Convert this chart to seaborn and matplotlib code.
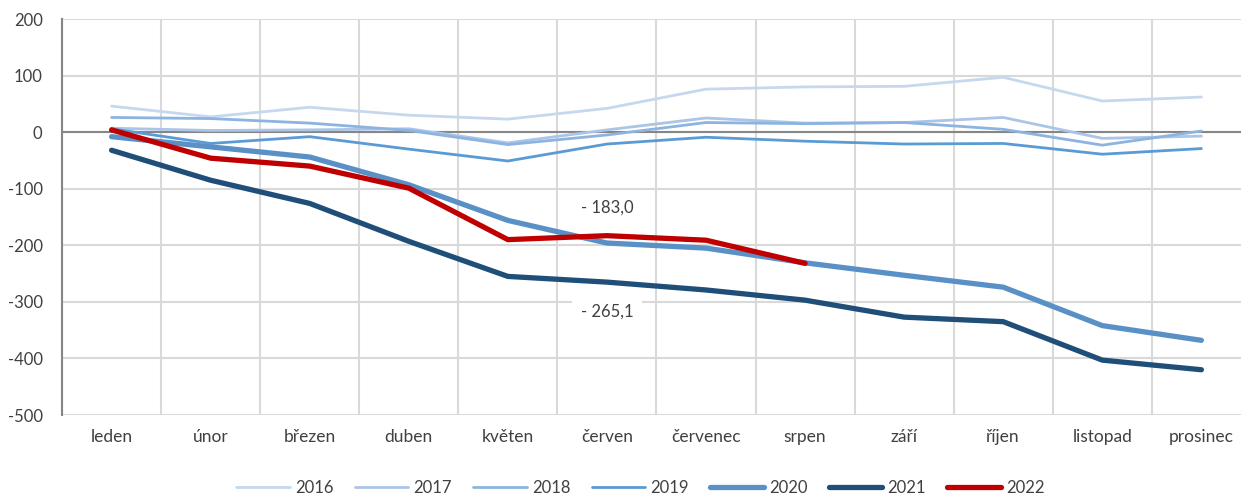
import matplotlib
matplotlib.use("Agg")
import matplotlib.pyplot as plt
import seaborn as sns
import pandas as pd
from matplotlib.lines import Line2D

months = ["leden", "únor", "březen", "duben", "květen", "červen",
          "červenec", "srpen", "září", "říjen", "listopad", "prosinec"]

y2016 = [46, 27, 44, 30, 23, 42, 76, 80, 81, 97, 55, 62]
y2017 = [7, 3, 4, 6, -19, 4, 25, 16, 17, 26, -11, -7]
y2018 = [26, 24, 16, 3, -22, -5, 17, 15, 17, 5, -23, 2]
y2019 = [6, -20, -8, -30, -51, -21, -9, -16, -21, -20, -39, -29]
y2020 = [-8, -26, -44, -93, -156, -196, -205, -231, -253, -274, -342, -368]
y2021 = [-32, -85, -126, -193, -255, -265.1, -279, -297, -327, -335, -403, -420]
y2022 = [4, -46, -60, -99, -190, -183.0, -191, -232]

years = ["2016", "2017", "2018", "2019", "2020", "2021", "2022"]
series = [y2016, y2017, y2018, y2019, y2020, y2021, y2022]
colors = ["#c6d8ee", "#aac5e7", "#8db4e0", "#5b9bd5", "#5990c6", "#1f4e79", "#c00000"]
widths = [2.0, 2.0, 2.0, 2.0, 3.8, 3.8, 3.8]

rows = []
for yr, vals in zip(years, series):
    for i, v in enumerate(vals):
        rows.append({"year": yr, "month_idx": i, "value": v})
df = pd.DataFrame(rows)

sns.set_theme(style="white")
plt.rcParams['font.family'] = ['Lato', 'DejaVu Sans']

fig = plt.figure(figsize=(12.41, 4.95), dpi=100)
ax = fig.add_axes([0.05, 0.1616, 0.958, 0.80])

for yr, c, w in zip(years, colors, widths):
    sub = df[df["year"] == yr]
    sns.lineplot(data=sub, x="month_idx", y="value", color=c, linewidth=w,
                 ax=ax, legend=False, solid_capstyle="round", zorder=3)

ax.set_xlim(-0.5, 11.5)
ax.set_ylim(-500, 200)
ax.set_yticks(range(-500, 201, 100))
ax.set_yticklabels([str(v) for v in range(-500, 201, 100)], fontsize=12, color="#404040")
ax.set_xticks(range(12))
ax.set_xticklabels(months, fontsize=12.5, color="#404040")
ax.set_xticks([i + 0.5 for i in range(-1, 12)], minor=True)
ax.tick_params(axis="both", which="both", length=0)
ax.tick_params(axis="x", pad=10)
ax.tick_params(axis="y", pad=14)
ax.set_xlabel("")
ax.set_ylabel("")

ax.grid(True, axis="y", which="major", color="#d9d9d9", linewidth=1.5, zorder=0)
ax.grid(True, axis="x", which="minor", color="#d9d9d9", linewidth=1.5, zorder=0)
ax.grid(False, axis="x", which="major")
ax.axhline(0, color="#868686", linewidth=1.5, zorder=2)

for s in ["top", "right", "bottom"]:
    ax.spines[s].set_visible(False)
ax.spines["left"].set_color("#868686")
ax.spines["left"].set_linewidth(1.5)

ax.annotate(f"- {abs(y2022[5]):.1f}".replace(".", ","), xy=(5, y2022[5]), xytext=(0, 20),
            textcoords="offset points", ha="center", va="center", fontsize=12, color="#404040", zorder=5)
ax.annotate(f"- {abs(y2021[5]):.1f}".replace(".", ","), xy=(5, y2021[5]), xytext=(0, -21.5),
            textcoords="offset points", ha="center", va="center", fontsize=12, color="#404040", zorder=5,
            bbox=dict(boxstyle="square,pad=0.5", fc="white", ec="none"))

handles = [Line2D([0], [0], color=c, linewidth=w, solid_capstyle="round") for c, w in zip(colors, widths)]
fig.legend(handles, years, loc="center", bbox_to_anchor=(0.516, 0.015), ncol=7, frameon=False,
           fontsize=12, handlelength=3.2, columnspacing=1.3, handletextpad=0.3,
           labelcolor="#404040")

fig.savefig("out.png", dpi=100)
